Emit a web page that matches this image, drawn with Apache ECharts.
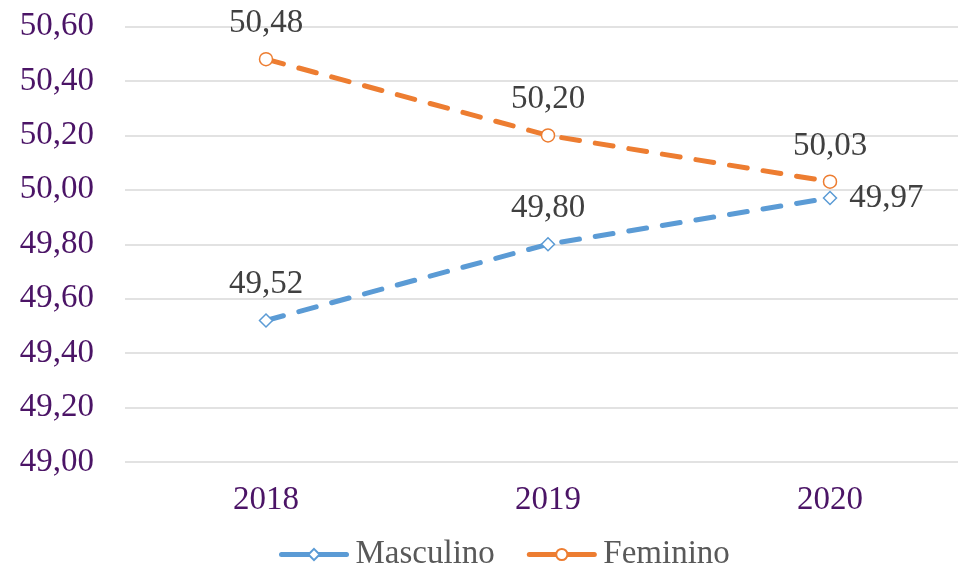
<!DOCTYPE html>
<html style="height: 100%">
  <head>
    <meta charset="utf-8" />
  </head>
  <body style="height: 100%; margin: 0; background: #fff">
    <div id="container" style="width: 958px; height: 578px"></div>
    <script src="https://cdn.jsdelivr.net/npm/echarts@6/dist/echarts.min.js"></script>
    <script type="text/javascript">
      var anos = ['2018', '2019', '2020'];
      var masculino = [49.52, 49.8, 49.97];
      var feminino = [50.48, 50.2, 50.03];

      var fonte = 'Liberation Serif';
      var roxo = '#4b1466';

      function virgula(v) {
        return v.toFixed(2).replace('.', ',');
      }

      var myChart = echarts.init(document.getElementById('container'));

      // o ultimo rotulo masculino fica a direita do ponto
      var dadosMasc = masculino.map(function (v, i) {
        return i === masculino.length - 1 ? { value: v, label: { position: 'right', distance: 12 } } : v;
      });

      var option = {
        animation: false,
        textStyle: { fontFamily: fonte },
        grid: { left: 125, right: -13, top: 26.5, bottom: 116, outerBoundsMode: 'none' },
        legend: {
          bottom: 2,
          left: 274,
          itemWidth: 65,
          itemHeight: 14,
          itemGap: 32,
          lineStyle: { width: 5, type: 'solid', cap: 'round' },
          textStyle: { fontFamily: fonte, fontSize: 33, color: '#595959', padding: [0, 0, 0, 4] },
          data: ['Masculino', 'Feminino']
        },
        xAxis: {
          type: 'category',
          data: anos,
          axisLine: { show: false },
          axisTick: { show: false },
          axisLabel: { fontFamily: fonte, fontSize: 33, color: roxo, margin: 22 }
        },
        yAxis: {
          type: 'value',
          min: 49,
          max: 50.6,
          interval: 0.2,
          axisLine: { show: false },
          axisTick: { show: false },
          splitLine: { lineStyle: { color: '#d9d9d9', width: 1.5 } },
          axisLabel: {
            fontFamily: fonte,
            fontSize: 33,
            color: roxo,
            margin: 31,
            formatter: virgula
          }
        },
        series: [
          {
            name: 'Masculino',
            type: 'line',
            data: dadosMasc,
            symbol: 'diamond',
            symbolSize: 13,
            itemStyle: { color: '#fff', borderColor: '#5b9bd5', borderWidth: 1.5 },
            lineStyle: { color: '#5b9bd5', width: 5, type: [18, 16], cap: 'round' },
            label: {
              show: true,
              position: 'top',
              distance: 12,
              fontFamily: fonte,
              fontSize: 33,
              color: '#404040',
              formatter: function (p) { return virgula(p.value); }
            }
          },
          {
            name: 'Feminino',
            type: 'line',
            data: feminino,
            symbol: 'circle',
            symbolSize: 13,
            itemStyle: { color: '#fff', borderColor: '#ed7d31', borderWidth: 1.5 },
            lineStyle: { color: '#ed7d31', width: 5, type: [18, 16], cap: 'round' },
            label: {
              show: true,
              position: 'top',
              distance: 12,
              fontFamily: fonte,
              fontSize: 33,
              color: '#404040',
              formatter: function (p) { return virgula(p.value); }
            }
          }
        ]
      };

      myChart.setOption(option);
    </script>
  </body>
</html>
